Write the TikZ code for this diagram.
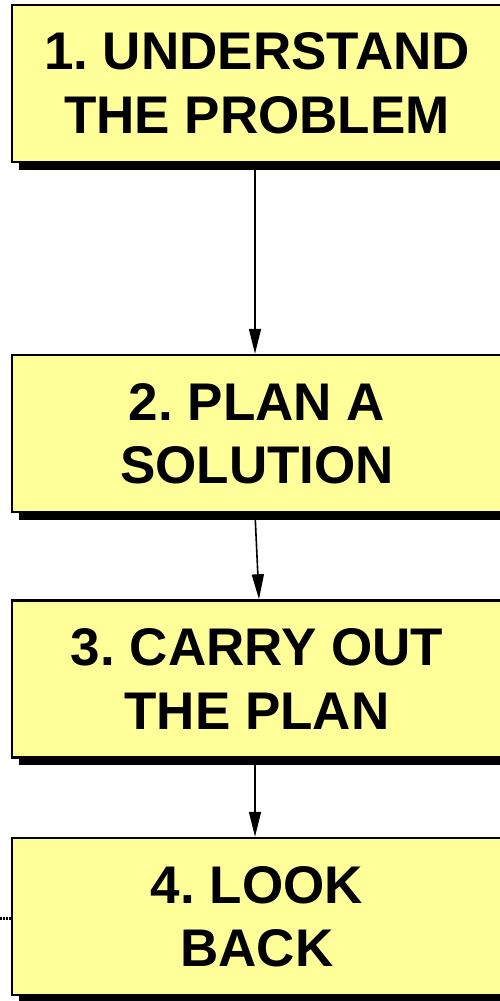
\documentclass[tikz,border=0pt]{standalone}
\usepackage{fontspec}
\setmainfont{Liberation Sans}
\usetikzlibrary{arrows.meta,shadows}
\definecolor{boxfill}{HTML}{FFFF99}
\frenchspacing
\tikzset{
  stepbox/.style={draw=black, line width=2.5pt, fill=boxfill,
    minimum width=490pt, minimum height=157pt, inner sep=0pt,
    align=center, font=\fontsize{53}{63.5}\selectfont\bfseries,
    drop shadow={shadow xshift=7pt, shadow yshift=-7.5pt, fill=black, opacity=1}},
  flow/.style={line width=1.6pt, -{Triangle[length=25pt,width=12pt]}}
}
\begin{document}
\begin{tikzpicture}[x=1pt,y=-1pt]
  \useasboundingbox (0,0) rectangle (500,1001);
  \clip (0,0) rectangle (500,1001);
  \node[stepbox] (b1) at (257,83.5) {1. UNDERSTAND\\THE PROBLEM};
  \node[stepbox] (b2) at (257,433.5) {2. PLAN A\\SOLUTION};
  \node[stepbox] (b3) at (257,679) {3. CARRY OUT\\THE PLAN};
  \node[stepbox] (b4) at (257,916.5) {4. LOOK\\BACK};
  \coordinate (side) at (0,918);
  \draw[flow] ([xshift=-2pt]b1.south) -- ([xshift=-2pt]b2.north);
  \draw[flow] ([xshift=-2pt]b2.south) -- ([xshift=2pt]b3.north);
  \draw[flow] ([xshift=-2pt]b3.south) -- ([xshift=-2pt]b4.north);
  \draw[line width=3pt, dash pattern=on 2pt off 1pt] (side) -- (side -| b4.west);
\end{tikzpicture}
\end{document}
